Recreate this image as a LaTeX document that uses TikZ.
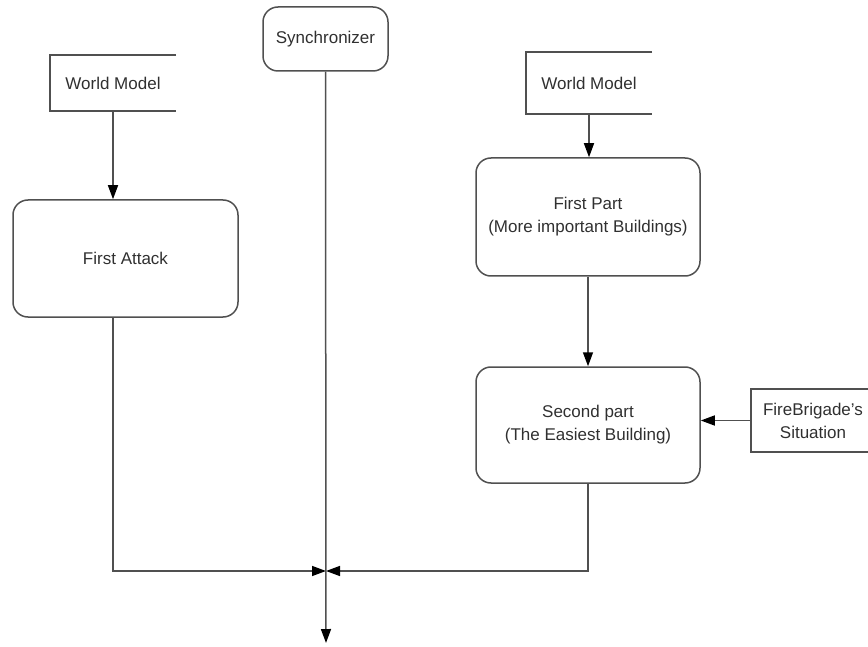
\documentclass[tikz,border=0pt]{standalone}
\usepackage{fontspec}
\setmainfont{Liberation Sans}
\usepackage{xcolor}
\usetikzlibrary{calc,arrows.meta,positioning}
\definecolor{ln}{HTML}{505050}
\definecolor{tx}{HTML}{303030}
\begin{document}
\begin{tikzpicture}[x=1pt, y=-1pt,
  every node/.style={font=\fontsize{17}{23}\selectfont, text=tx, align=center, inner sep=0pt},
  rbox/.style={draw=ln, line width=1.5pt, rounded corners=15pt, minimum width=#1},
  rbox/.default=224pt,
  store/.style={minimum width=#1, minimum height=60pt},
  flow/.style={draw=ln, line width=1.5pt, -{Triangle[length=14pt, width=10pt, color=black]}}
]
\useasboundingbox (0,0) rectangle (868,647);
% nodes
\node[rbox=125pt, minimum height=64pt] (sync) at (325.5,39) {Synchronizer};
\node[store=126pt, minimum height=56pt] (wmL) at (113,83) {World Model};
\node[store=126pt, minimum height=62pt] (wmR) at (589,83) {World Model};
\node[rbox=225pt, minimum height=117pt] (fa) at (125.5,258.5) {First Attack};
\node[rbox, minimum height=118pt] (fp) at (588,217) {First Part\\(More important Buildings)};
\node[rbox, minimum height=116pt] (sp) at (588,425) {Second part\\(The Easiest Building)};
\node[store=124pt, minimum height=63pt] (fb) at (813,420.5) {FireBrigade's\\Situation};
\coordinate (m) at (326,571);
\coordinate (out) at (326,643);
% open stores
\foreach \n in {wmL,wmR,fb}
  \draw[ln, line width=1.5pt] (\n.north east) -- (\n.north west) -- (\n.south west) -- (\n.south east);
% connectors
\draw[flow] (wmL.south) -- (wmL.south |- fa.north);
\draw[flow] (wmR.south) -- (wmR.south |- fp.north);
\draw[flow] (fp.south) -- (sp.north);
\draw[flow] (fb.west) -- (fb.west -| sp.east);
\draw[flow] (fa.south -| wmL.south) |- (m);
\draw[flow] (sp.south) |- (m);
\draw[flow] (sync.south) -- (out);
\end{tikzpicture}
\end{document}
